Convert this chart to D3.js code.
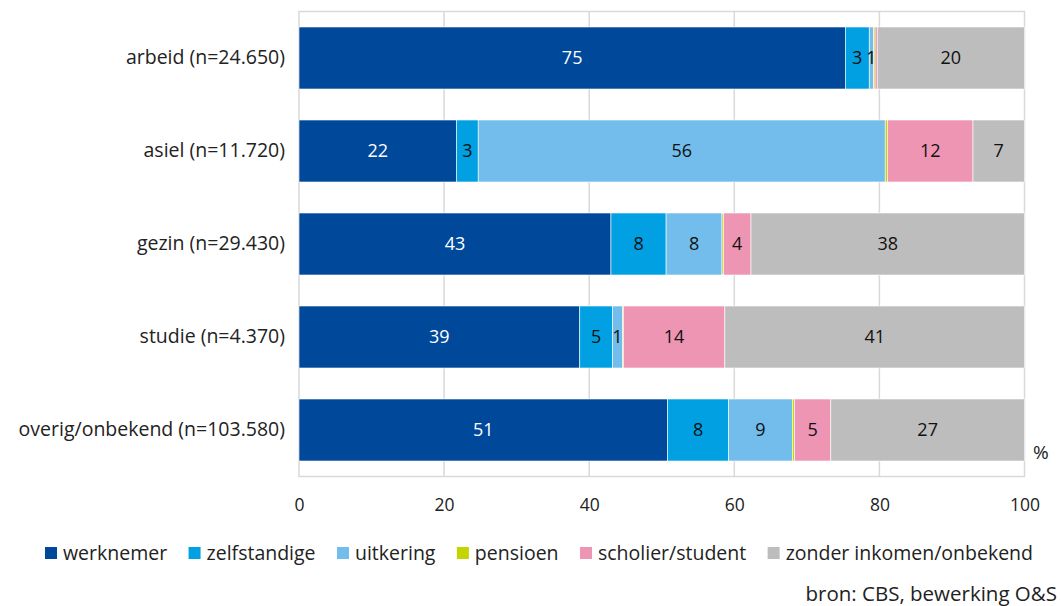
<!DOCTYPE html>
<html>
<head>
<meta charset="utf-8">
<script src="https://cdn.jsdelivr.net/npm/d3@7"></script>
<style>
  body { margin: 0; background: #fff; }
  text { font-family: "Open Sans", "Noto Sans", sans-serif; }
</style>
</head>
<body>
<figure id="bar" style="margin:0"></figure>
<script>
// categories and series (percentages)
const categories = ["arbeid (n=24.650)", "asiel (n=11.720)", "gezin (n=29.430)", "studie (n=4.370)", "overig/onbekend (n=103.580)"];
const seriesNames = ["werknemer", "zelfstandige", "uitkering", "pensioen", "scholier/student", "zonder inkomen/onbekend"];
const werknemer    = [75.3, 21.7, 43.0, 38.7, 50.8];
const zelfstandige = [3.3, 3.0, 7.6, 4.5, 8.4];
const uitkering    = [0.6, 56.1, 7.7, 1.4, 8.8];
const pensioen     = [0.2, 0.3, 0.2, 0.1, 0.3];
const scholier     = [0.3, 11.8, 3.8, 14.0, 5.0];
const zonder       = [20.3, 7.1, 37.7, 41.3, 26.7];
const xTicks = [0, 20, 40, 60, 80, 100];
const colors = ["#004899", "#00a0e3", "#72bdec", "#c3d500", "#ee95b4", "#bdbdbd"];

const seriesValues = [werknemer, zelfstandige, uitkering, pensioen, scholier, zonder];
const data = categories.map((c, i) => {
  const row = { cat: c };
  seriesNames.forEach((s, j) => row[s] = seriesValues[j][i]);
  return row;
});

const W = 1061, H = 606;
const svg = d3.select("figure#bar").append("svg").attr("width", W).attr("height", H);

const x = d3.scaleLinear().domain([0, 100]).range([299, 1024.5]);
const y = d3.scaleBand().domain(categories).range([11.5, 476.5])
  .paddingInner(1 / 3).paddingOuter(1 / 6);

// frame + grid
svg.append("rect")
  .attr("x", x(0)).attr("y", 11.5)
  .attr("width", x(100) - x(0)).attr("height", 465)
  .attr("fill", "none").attr("stroke", "#d9d9d9").attr("stroke-width", 1.5);
svg.append("g").selectAll("line").data(xTicks.slice(1, -1)).join("line")
  .attr("x1", d => x(d)).attr("x2", d => x(d))
  .attr("y1", 11.5).attr("y2", 476.5)
  .attr("stroke", "#d9d9d9").attr("stroke-width", 1.5);

// x axis labels
const xAxis = svg.append("g")
  .attr("transform", "translate(0,476.5)")
  .call(d3.axisBottom(x).tickValues(xTicks).tickSize(0).tickPadding(22));
xAxis.select(".domain").remove();
xAxis.selectAll("text").attr("font-size", 17.5).attr("fill", "#222")
  .style("font-family", '"Open Sans", "Noto Sans", sans-serif');

// y axis labels
const yAxis = svg.append("g")
  .attr("transform", "translate(299,0)")
  .call(d3.axisLeft(y).tickSize(0).tickPadding(14));
yAxis.select(".domain").remove();
yAxis.selectAll("text").attr("font-size", 19.5).attr("fill", "#222")
  .style("font-family", '"Open Sans", "Noto Sans", sans-serif');

// stacked bars
const stack = d3.stack().keys(seriesNames)(data);
const layer = svg.append("g").selectAll("g").data(stack).join("g")
  .attr("fill", (d, i) => colors[i]);
layer.selectAll("rect").data(d => d).join("rect")
  .attr("x", d => x(d[0]))
  .attr("y", d => y(d.data.cat))
  .attr("width", d => x(d[1]) - x(d[0]))
  .attr("height", y.bandwidth())
  .attr("stroke", "#fff").attr("stroke-width", 0.6);

// value labels
stack.forEach((s, i) => {
  svg.append("g").selectAll("text").data(s.filter(d => d[1] - d[0] >= 0.5)).join("text")
    .attr("x", d => (x(d[0]) + x(d[1])) / 2)
    .attr("y", d => y(d.data.cat) + y.bandwidth() / 2)
    .attr("dy", "0.36em")
    .attr("text-anchor", "middle")
    .attr("font-size", 18)
    .attr("fill", i === 0 ? "#fff" : "#111")
    .text(d => Math.round(d[1] - d[0]));
});

// % unit
svg.append("text").attr("x", 1033).attr("y", 459).attr("font-size", 19).attr("fill", "#222").text("%");

// legend, spread over the same width as the original
const legend = svg.append("g").attr("transform", "translate(45,553)");
const items = seriesNames.map((s, i) => {
  const g = legend.append("g");
  g.append("rect").attr("x", 0).attr("y", -6).attr("width", 12).attr("height", 12).attr("fill", colors[i]);
  const t = g.append("text").attr("x", 18).attr("dy", "0.35em").attr("font-size", 19.5).attr("fill", "#222").text(s);
  return { g, w: 18 + t.node().getComputedTextLength() };
});
const legendWidth = 988;
const gap = (legendWidth - d3.sum(items, d => d.w)) / (items.length - 1);
let lx = 0;
items.forEach(it => { it.g.attr("transform", `translate(${lx},0)`); lx += it.w + gap; });

// source
svg.append("text").attr("x", 1057).attr("y", 601).attr("text-anchor", "end")
  .attr("font-size", 20.5).attr("fill", "#222").text("bron: CBS, bewerking O&S");
</script>
</body>
</html>
